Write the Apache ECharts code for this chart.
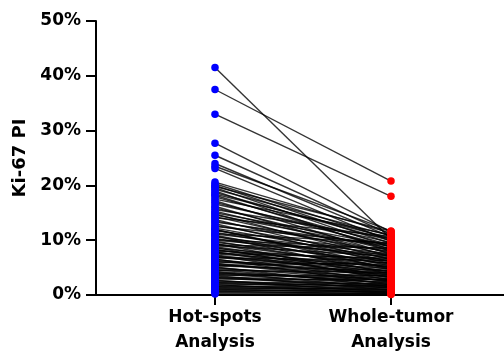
<!DOCTYPE html>
<html>
<head>
<meta charset="utf-8">
<script src="https://cdn.jsdelivr.net/npm/echarts@6/dist/echarts.min.js"></script>
<style>
  html, body { margin: 0; padding: 0; background: #fff; }
  #chart { width: 504px; height: 355px; }
</style>
</head>
<body>
<div id="chart"></div>
<script>
// group names on the x axis (x = 0 and x = 1)
const groups = ['Hot-spots\nAnalysis', 'Whole-tumor\nAnalysis'];

// Ki-67 PI (%) per case, paired by index
const hotSpots = [
  41.5, 37.5, 33.0, 27.7, 25.5, 24.0, 23.5, 23.1,
  20.6, 20.3, 20.0, 19.8, 19.6, 19.3, 19.0, 18.7,
  18.4, 18.2, 17.9, 17.5, 17.2, 16.9, 16.6, 16.2,
  15.9, 15.6, 15.3, 15.0, 14.8, 14.6, 14.3, 14.1,
  13.8, 13.5, 13.3, 13.0, 12.7, 12.5, 12.2, 12.0,
  11.9, 11.7, 11.4, 11.2, 11.1, 10.9, 10.8, 10.6,
  10.3, 10.1, 10.0, 9.8, 9.6, 9.4, 9.3, 9.1,
  9.0, 8.8, 8.7, 8.5, 8.3, 8.2, 8.0, 7.9,
  7.8, 7.6, 7.5, 7.3, 7.2, 7.0, 6.9, 6.8,
  6.6, 6.5, 6.3, 6.1, 6.0, 5.8, 5.7, 5.5,
  5.4, 5.3, 5.1, 5.0, 4.8, 4.6, 4.5, 4.3,
  4.2, 4.0, 3.9, 3.8, 3.6, 3.5, 3.3, 3.2,
  3.1, 2.9, 2.7, 2.6, 2.4, 2.3, 2.2, 2.0,
  1.9, 1.8, 1.6, 1.5, 1.4, 1.2, 1.1, 1.0,
  0.8, 0.7, 0.6, 0.4, 0.2
];
const wholeTumor = [
  10.2, 20.8, 18.0, 11.5, 11.0, 10.6, 11.7, 9.8,
  11.3, 10.1, 9.4, 11.6, 8.7, 10.8, 7.9, 9.9,
  10.4, 8.3, 9.1, 11.0, 7.4, 8.8, 9.6, 6.9,
  8.1, 10.3, 7.6, 9.0, 6.4, 8.5, 7.2, 10.7,
  6.0, 7.8, 8.9, 5.7, 7.0, 9.3, 6.6, 4.7,
  5.3, 8.0, 6.2, 9.5, 7.5, 4.9, 3.8, 6.8,
  5.6, 8.4, 7.3, 4.6, 6.1, 3.2, 5.1, 8.6,
  7.1, 4.2, 2.7, 5.8, 3.9, 5.0, 6.5, 3.1,
  4.4, 6.7, 5.2, 3.6, 2.3, 4.8, 4.3, 6.3,
  1.8, 3.3, 4.0, 3.8, 5.5, 2.9, 2.5, 3.7,
  5.9, 4.5, 1.5, 2.6, 3.4, 2.1, 4.1, 2.2,
  1.2, 3.0, 2.7, 1.9, 3.5, 0.9, 2.4, 1.8,
  1.6, 2.8, 0.5, 1.3, 2.0, 1.5, 1.0, 1.7,
  0.3, 0.8, 1.4, 0.9, 0.6, 1.1, 0.5, 0.4,
  0.7, 0.2, 0.3, 0.2, 0.1
];

// y axis ticks
const yMin = 0, yMax = 50, yStep = 10;

const chart = echarts.init(document.getElementById('chart'));

const FONT = '"DejaVu Sans", sans-serif';

const pairs = hotSpots.map((h, i) => ({ coords: [[0, h], [1, wholeTumor[i]]] }));

const option = {
  animation: false,
  grid: { left: 96, right: 0, top: 21, bottom: 58, containLabel: false },
  xAxis: {
    type: 'value',
    min: -0.676,
    max: 1.642,
    axisLine: { show: true, onZero: false, lineStyle: { color: '#000', width: 2 } },
    axisTick: { show: true, customValues: [0, 1], length: 10, lineStyle: { color: '#000', width: 2 } },
    axisLabel: {
      customValues: [0, 1],
      formatter: v => groups[Math.round(v)],
      color: '#000',
      fontFamily: FONT,
      fontWeight: 'bold',
      fontSize: 17,
      lineHeight: 25,
      margin: 10
    },
    splitLine: { show: false }
  },
  yAxis: {
    type: 'value',
    min: yMin,
    max: yMax,
    interval: yStep,
    name: 'Ki-67 PI',
    nameLocation: 'middle',
    nameRotate: 90,
    nameGap: 65,
    nameTextStyle: { color: '#000', fontFamily: FONT, fontWeight: 'bold', fontSize: 18 },
    axisLine: { show: true, onZero: false, lineStyle: { color: '#000', width: 2 } },
    axisTick: { show: true, length: 10, lineStyle: { color: '#000', width: 2 } },
    axisLabel: {
      formatter: '{value}%',
      color: '#000',
      fontFamily: FONT,
      fontWeight: 'bold',
      fontSize: 17,
      margin: 15
    },
    splitLine: { show: false }
  },
  series: [
    {
      type: 'lines',
      coordinateSystem: 'cartesian2d',
      z: 1,
      silent: true,
      lineStyle: { color: '#000', width: 1.4, opacity: 0.8 },
      data: pairs
    },
    {
      type: 'scatter',
      z: 3,
      symbol: 'circle',
      symbolSize: 7.5,
      itemStyle: { color: '#0000ff', opacity: 1 },
      data: hotSpots.map(h => [0, h])
    },
    {
      type: 'scatter',
      z: 3,
      symbol: 'circle',
      symbolSize: 7.5,
      itemStyle: { color: '#ff0000', opacity: 1 },
      data: wholeTumor.map(w => [1, w])
    }
  ]
};

chart.setOption(option);
</script>
</body>
</html>
